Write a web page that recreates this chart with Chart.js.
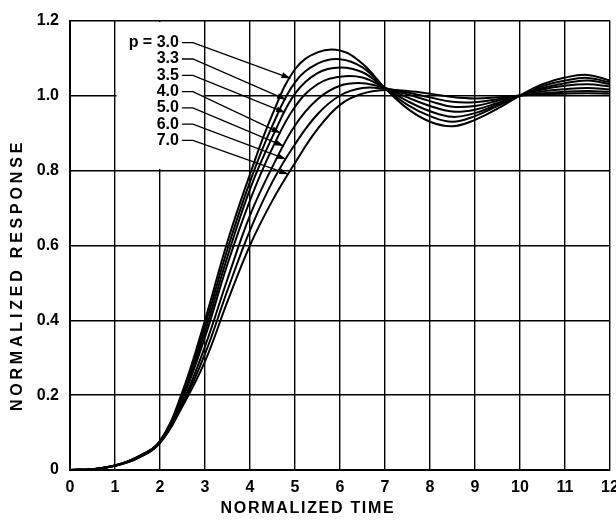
<!DOCTYPE html>
<html>
<head>
<meta charset="utf-8">
<script src="https://cdn.jsdelivr.net/npm/chart.js@4.4.0/dist/chart.umd.min.js"></script>
<style>
  html, body { margin: 0; padding: 0; background: #fff; }
  #wrap { width: 616px; height: 520px; }
</style>
</head>
<body>
<div id="wrap"><canvas id="responseChart"></canvas></div>
<script>
// normalized time samples
const times = [0, 0.5, 1, 1.5, 2, 2.5, 3, 3.5, 4, 4.5, 5, 5.5, 6, 6.5, 7, 7.5, 8, 8.5, 9, 9.5, 10, 10.5, 11, 11.5, 12];

// curve labels (p values)
const pLabels = ['p = 3.0', '3.3', '3.5', '4.0', '5.0', '6.0', '7.0'];

// response, one array per p
const p30 = [0, 0.002, 0.012, 0.035, 0.078, 0.21, 0.40, 0.61, 0.79, 0.95, 1.07, 1.115, 1.12, 1.085, 1.02, 0.965, 0.93, 0.918, 0.935, 0.965, 1.0, 1.03, 1.048, 1.055, 1.04];
const p33 = [0, 0.002, 0.012, 0.035, 0.077, 0.20, 0.385, 0.59, 0.77, 0.92, 1.035, 1.085, 1.097, 1.075, 1.02, 0.975, 0.945, 0.93, 0.945, 0.972, 1.0, 1.025, 1.04, 1.047, 1.035];
const p35 = [0, 0.002, 0.012, 0.034, 0.076, 0.195, 0.37, 0.57, 0.75, 0.89, 1.005, 1.06, 1.075, 1.062, 1.02, 0.985, 0.958, 0.943, 0.953, 0.976, 1.0, 1.02, 1.033, 1.04, 1.03];
const p40 = [0, 0.002, 0.012, 0.034, 0.075, 0.19, 0.355, 0.55, 0.72, 0.86, 0.97, 1.03, 1.05, 1.048, 1.02, 0.995, 0.972, 0.957, 0.962, 0.98, 1.0, 1.016, 1.026, 1.03, 1.024];
const p50 = [0, 0.002, 0.012, 0.033, 0.074, 0.18, 0.33, 0.51, 0.68, 0.81, 0.92, 0.99, 1.026, 1.033, 1.02, 1.003, 0.985, 0.97, 0.972, 0.986, 1.0, 1.011, 1.017, 1.02, 1.016];
const p60 = [0, 0.002, 0.011, 0.032, 0.073, 0.175, 0.31, 0.48, 0.64, 0.77, 0.87, 0.95, 1.0, 1.02, 1.018, 1.008, 0.995, 0.983, 0.982, 0.99, 1.0, 1.006, 1.01, 1.012, 1.01];
const p70 = [0, 0.002, 0.011, 0.031, 0.072, 0.17, 0.29, 0.45, 0.60, 0.72, 0.82, 0.91, 0.975, 1.005, 1.015, 1.012, 1.005, 0.996, 0.992, 0.995, 1.0, 1.003, 1.005, 1.006, 1.005];

// time at which each label arrow touches its curve
const arrowTimes = [4.9, 4.8, 4.78, 4.68, 4.75, 4.8, 4.85];

const series = [p30, p33, p35, p40, p50, p60, p70];

const FONT = 'Liberation Sans, Arial, sans-serif';

// value of a series at time t (linear between samples)
function valueAt(arr, t) {
  for (let i = 0; i < times.length - 1; i++) {
    if (t >= times[i] && t <= times[i + 1]) {
      const f = (t - times[i]) / (times[i + 1] - times[i]);
      return arr[i] + f * (arr[i + 1] - arr[i]);
    }
  }
  return arr[arr.length - 1];
}

// labels with leader lines and arrowheads
const labelPlugin = {
  id: 'pLabels',
  beforeDatasetsDraw(chart) {
    // blank patch of grid behind the labels
    const { ctx, scales: { x, y } } = chart;
    const x1 = x.getPixelForValue(1) + 1.5, x2 = x.getPixelForValue(3) - 1.5;
    const y1 = y.getPixelForValue(1.2) + 1.5, y2 = y.getPixelForValue(0.8) - 1.5;
    ctx.save();
    ctx.fillStyle = '#fff';
    ctx.fillRect(x1, y1, x2 - x1, y2 - y1);
    ctx.restore();
  },
  afterDatasetsDraw(chart) {
    const { ctx, scales: { x, y } } = chart;
    ctx.save();
    ctx.font = 'bold 16px ' + FONT;
    ctx.fillStyle = '#000';
    ctx.strokeStyle = '#000';
    ctx.lineWidth = 1.3;
    ctx.textAlign = 'right';
    ctx.textBaseline = 'middle';
    const textX = x.getPixelForValue(2.42);
    pLabels.forEach((lab, i) => {
      const ly = y.getPixelForValue(1.141 - i * 0.0435);
      ctx.fillText(lab, textX, ly);
      const tt = arrowTimes[i];
      const tx = x.getPixelForValue(tt);
      const ty = y.getPixelForValue(valueAt(series[i], tt));
      const sx = textX + 3, kx = textX + 14;
      ctx.beginPath();
      ctx.moveTo(sx, ly);
      ctx.lineTo(kx, ly);
      ctx.lineTo(tx, ty);
      ctx.stroke();
      // arrowhead
      const ang = Math.atan2(ty - ly, tx - kx);
      const len = 9, w = 3;
      ctx.beginPath();
      ctx.moveTo(tx, ty);
      ctx.lineTo(tx - len * Math.cos(ang) + w * Math.sin(ang), ty - len * Math.sin(ang) - w * Math.cos(ang));
      ctx.lineTo(tx - len * Math.cos(ang) - w * Math.sin(ang), ty - len * Math.sin(ang) + w * Math.cos(ang));
      ctx.closePath();
      ctx.fill();
    });
    ctx.restore();
  },
  afterDraw(chart) {
    const { ctx } = chart;
    ctx.save();
    ctx.fillStyle = '#000';
    ctx.font = 'bold 16px ' + FONT;
    ctx.textAlign = 'center';
    ctx.textBaseline = 'middle';
    ctx.letterSpacing = '1.7px';
    ctx.fillText('NORMALIZED TIME', 308, 509);
    ctx.translate(18, 275);
    ctx.rotate(-Math.PI / 2);
    ctx.letterSpacing = '3.8px';
    ctx.fillText('NORMALIZED RESPONSE', 0, 0);
    ctx.restore();
  }
};

const datasets = series.map((arr, i) => ({
  label: pLabels[i],
  data: times.map((t, j) => ({ x: t, y: arr[j] })),
  borderColor: '#000',
  borderWidth: 2,
  pointRadius: 0,
  tension: 0.4,
  fill: false
}));

new Chart(document.getElementById('responseChart'), {
  type: 'line',
  data: { datasets: datasets },
  options: {
    responsive: true,
    maintainAspectRatio: false,
    animation: false,
    layout: { padding: { left: 0, right: 6, top: 19, bottom: 0 } },
    plugins: {
      legend: { display: false },
      tooltip: { enabled: false }
    },
    scales: {
      x: {
        type: 'linear',
        min: 0,
        max: 12,
        ticks: {
          stepSize: 1,
          color: '#000',
          padding: 8,
          font: { family: FONT, size: 16, weight: 'bold' }
        },
        grid: { color: '#000', lineWidth: 1.4, drawTicks: false },
        border: { color: '#000', width: 2 },
        afterFit(scale) {
          scale.height = 50;
          scale.paddingRight = 0;
        }
      },
      y: {
        min: 0,
        max: 1.2,
        ticks: {
          stepSize: 0.2,
          color: '#000',
          padding: 11,
          font: { family: FONT, size: 16, weight: 'bold' },
          callback: v => (v === 0 ? '0' : v.toFixed(1))
        },
        grid: { color: '#000', lineWidth: 1.4, drawTicks: false },
        border: { color: '#000', width: 2 },
        afterFit(scale) {
          scale.width = 70;
        }
      }
    }
  },
  plugins: [labelPlugin]
});
</script>
</body>
</html>
